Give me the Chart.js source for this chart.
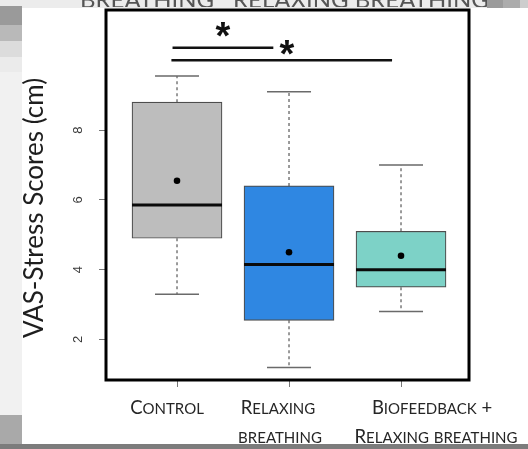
<!DOCTYPE html>
<html>
<head>
<meta charset="utf-8">
<script src="https://cdn.jsdelivr.net/npm/chart.js@4/dist/chart.umd.min.js"></script>
<style>
  html, body { margin: 0; padding: 0; }
  body { width: 528px; height: 449px; position: relative; overflow: hidden; background: #f1f1f1; }
  .blk { position: absolute; }
  #panel { left: 22px; top: 8px; width: 506px; height: 436px; background: #fff; }
  .topText { position: absolute; top: 0; height: 7px; overflow: hidden; }
  .topText span { position: absolute; top: -16px; left: 0; white-space: nowrap; line-height: 24px;
    font: 24px Lato, sans-serif; color: #555; filter: blur(0.7px); text-transform: uppercase; }
  #chartWrap { position: absolute; left: 0; top: 0; width: 528px; height: 449px; }
</style>
</head>
<body>
<div class="blk" style="left:0;top:0;width:528px;height:8px;background:#ececec"></div>
<div class="blk" style="left:487px;top:0;width:16px;height:13px;background:#9b9b9b"></div>
<div class="blk" style="left:503px;top:0;width:17px;height:13px;background:#acacac"></div>
<div class="blk" style="left:520px;top:0;width:8px;height:13px;background:#cdcdcd"></div>
<div class="blk" style="left:0;top:6px;width:22px;height:19px;background:#9a9a9a"></div>
<div class="blk" style="left:0;top:25px;width:22px;height:16px;background:#b9b9b9"></div>
<div class="blk" style="left:0;top:41px;width:22px;height:16px;background:#dcdcdc"></div>
<div class="blk" style="left:0;top:57px;width:22px;height:15px;background:#ebebeb"></div>
<div class="blk" style="left:0;top:415px;width:22px;height:34px;background:#a9a9a9"></div>
<div class="blk" style="left:0;top:444px;width:528px;height:5px;background:#7c7c7c"></div>
<div class="blk" id="panel"></div>
<div class="topText" style="left:80px;width:150px"><span>Breathing</span></div>
<div class="topText" style="left:233px;width:254px"><span>Relaxing breathing</span></div>
<div id="chartWrap"><canvas id="c" width="528" height="449"></canvas></div>
<script>
// Groups and their summary statistics (VAS stress, cm)
const categories = ['Control', 'Relaxing breathing', 'Biofeedback + Relaxing breathing'];
const labelLines = [['Control'], ['Relaxing', 'breathing'], ['Biofeedback +', 'Relaxing breathing']];
const whiskerLow  = [3.3, 1.2, 2.8];
const quartile1   = [4.9, 2.55, 3.5];
const medians     = [5.85, 4.15, 4.0];
const quartile3   = [8.8, 6.4, 5.1];
const whiskerHigh = [9.55, 9.1, 7.0];
const means       = [6.55, 4.5, 4.4];
const yTicks = [2, 4, 6, 8];

// Significance brackets
const sigFrom  = [-0.04, -0.05];
const sigTo    = [0.86, 1.92];
const sigLevel = [10.36, 10.0];
const sigMarkX = [0.41, 0.98];
const sigMarkY = [10.88, 10.38];
const sigMarks = ['*', '*'];

const boxColors = ['#bdbdbd', '#2f87e2', '#7dd2c7'];
const labelShift = [[-10], [-11, -9], [31, 35]];

// Draws text in small capitals: capitals at full size, lower case as reduced capitals.
function smallCapsText(ctx, text, cx, baseline, big, small, family) {
  const runs = [];
  for (const ch of text) {
    const isLower = ch !== ch.toUpperCase();
    const last = runs[runs.length - 1];
    if (last && last.lower === isLower) last.t += ch; else runs.push({ t: ch, lower: isLower });
  }
  let total = 0;
  runs.forEach(r => {
    ctx.font = (r.lower ? small : big) + 'px ' + family;
    r.s = r.t.toUpperCase();
    r.w = ctx.measureText(r.s).width;
    total += r.w;
  });
  let px = cx - total / 2;
  ctx.textAlign = 'left';
  runs.forEach(r => {
    ctx.font = (r.lower ? small : big) + 'px ' + family;
    ctx.fillText(r.s, px, baseline);
    px += r.w;
  });
}

const extras = {
  id: 'boxplotExtras',
  beforeDatasetsDraw(chart) {
    const { ctx, scales: { x, y } } = chart;
    ctx.save();
    categories.forEach((c, i) => {
      const cx = x.getPixelForValue(i);
      ctx.strokeStyle = '#7a7a7a';
      ctx.lineWidth = 1.5;
      ctx.setLineDash([3, 3]);
      ctx.beginPath();
      ctx.moveTo(cx, y.getPixelForValue(quartile3[i]));
      ctx.lineTo(cx, y.getPixelForValue(whiskerHigh[i]));
      ctx.moveTo(cx, y.getPixelForValue(quartile1[i]));
      ctx.lineTo(cx, y.getPixelForValue(whiskerLow[i]));
      ctx.stroke();
      ctx.setLineDash([]);
      ctx.strokeStyle = '#6a6a6a';
      ctx.beginPath();
      [whiskerHigh[i], whiskerLow[i]].forEach(v => {
        const py = y.getPixelForValue(v);
        ctx.moveTo(cx - 22, py);
        ctx.lineTo(cx + 22, py);
      });
      ctx.stroke();
    });
    ctx.restore();
  },
  afterDatasetDraw(chart, args) {
    if (args.index !== 0) return;
    const { ctx, scales: { x, y } } = chart;
    ctx.save();
    ctx.strokeStyle = '#0a0a0a';
    ctx.lineWidth = 3;
    categories.forEach((c, i) => {
      const cx = x.getPixelForValue(i);
      const py = y.getPixelForValue(medians[i]);
      ctx.beginPath();
      ctx.moveTo(cx - 45, py);
      ctx.lineTo(cx + 45, py);
      ctx.stroke();
    });
    ctx.restore();
  },
  afterDraw(chart) {
    const { ctx, chartArea: a, scales: { x, y } } = chart;
    ctx.save();
    // frame
    ctx.strokeStyle = '#000';
    ctx.lineWidth = 3;
    ctx.strokeRect(a.left, a.top, a.right - a.left, a.bottom - a.top);

    // significance brackets
    ctx.lineWidth = 2.5;
    ctx.strokeStyle = '#111';
    sigLevel.forEach((lv, k) => {
      const py = y.getPixelForValue(lv);
      ctx.beginPath();
      ctx.moveTo(x.getPixelForValue(sigFrom[k]), py);
      ctx.lineTo(x.getPixelForValue(sigTo[k]), py);
      ctx.stroke();
    });
    ctx.fillStyle = '#111';
    ctx.font = 'bold 38px "Liberation Sans", Arial, sans-serif';
    ctx.textAlign = 'center';
    ctx.textBaseline = 'alphabetic';
    sigMarks.forEach((m, k) => {
      const mt = ctx.measureText(m);
      const h = mt.actualBoundingBoxAscent + mt.actualBoundingBoxDescent;
      const py = y.getPixelForValue(sigMarkY[k]);
      ctx.fillText(m, x.getPixelForValue(sigMarkX[k]), py + mt.actualBoundingBoxAscent - h / 2);
    });

    // rotated y tick labels
    ctx.fillStyle = '#3a3a3a';
    ctx.font = '13px "Liberation Sans", Arial, sans-serif';
    ctx.textBaseline = 'middle';
    yTicks.forEach(v => {
      ctx.save();
      ctx.translate(78, y.getPixelForValue(v));
      ctx.rotate(-Math.PI / 2);
      ctx.fillText(String(v), 0, 0);
      ctx.restore();
    });

    // y axis title
    ctx.save();
    ctx.fillStyle = '#1e1e1e';
    ctx.font = '26px Lato, sans-serif';
    ctx.translate(35, 208);
    ctx.rotate(-Math.PI / 2);
    ctx.fillText('VAS-Stress Scores (cm)', 0, 0);
    ctx.restore();

    // category labels in small capitals
    ctx.fillStyle = '#262626';
    ctx.textBaseline = 'alphabetic';
    labelLines.forEach((lines, i) => {
      const cx = x.getPixelForValue(i);
      lines.forEach((t, j) => {
        smallCapsText(ctx, t, cx + labelShift[i][j], 414 + j * 29, 18.5, 15, 'Lato, sans-serif');
      });
    });
    ctx.restore();
  }
};

new Chart(document.getElementById('c'), {
  type: 'bar',
  data: {
    datasets: [
      {
        type: 'bar',
        order: 2,
        data: categories.map((c, i) => ({ x: i, y: [quartile1[i], quartile3[i]] })),
        backgroundColor: boxColors,
        borderColor: '#4d4d4d',
        borderWidth: 1.2,
        borderSkipped: false,
        barThickness: 90
      },
      {
        type: 'scatter',
        order: 1,
        data: categories.map((c, i) => ({ x: i, y: means[i] })),
        backgroundColor: '#000',
        borderWidth: 0,
        pointRadius: 3.3
      }
    ]
  },
  options: {
    responsive: false,
    animation: false,
    devicePixelRatio: 1,
    layout: { padding: { top: 10, right: 59, left: 0, bottom: 0 } },
    plugins: { legend: { display: false }, tooltip: { enabled: false } },
    scales: {
      x: {
        type: 'linear',
        offset: false,
        min: -0.634,
        max: 2.607,
        afterBuildTicks: s => { s.ticks = categories.map((c, i) => ({ value: i })); },
        afterFit: s => { s.height = 69; },
        ticks: { display: false },
        grid: { offset: false, drawOnChartArea: false, drawTicks: true, tickLength: 7, color: '#777', lineWidth: 1 },
        border: { display: false }
      },
      y: {
        min: 0.84,
        max: 11.44,
        afterBuildTicks: s => { s.ticks = yTicks.map(v => ({ value: v })); },
        afterFit: s => { s.width = 106; },
        ticks: { display: false },
        grid: { drawOnChartArea: false, drawTicks: true, tickLength: 7, color: '#777', lineWidth: 1 },
        border: { display: false }
      }
    }
  },
  plugins: [extras]
});
</script>
</body>
</html>
